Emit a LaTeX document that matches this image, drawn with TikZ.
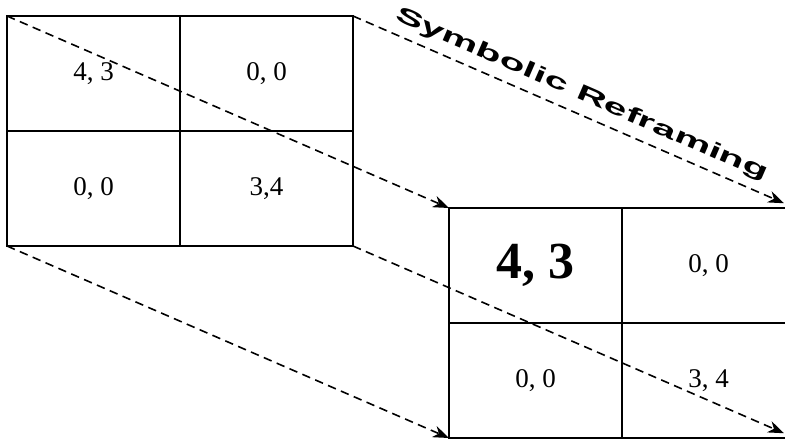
\documentclass[tikz,border=0pt]{standalone}
\usepackage{fontspec}
\setmainfont{Liberation Serif}
\newfontfamily\labelfont{Liberation Sans}
\usetikzlibrary{arrows.meta}
\begin{document}
\begin{tikzpicture}[x=1pt,y=-1pt,
  cell/.style={draw, line width=1.9pt, minimum width=173pt, minimum height=115pt,
    inner sep=0pt, outer sep=0pt, font=\fontsize{27}{30}\selectfont},
  big/.style={font=\fontsize{52}{56}\selectfont\bfseries},
  proj/.style={dash pattern=on 8.5pt off 5.5pt, line width=1.6pt,
    -{Stealth[length=16pt,width=12pt,inset=5pt]}},
  tag/.style={sloped, above=8pt, inner sep=0pt,
    font=\labelfont\bfseries\fontsize{22}{26}\selectfont},
]
\clip (0,0) rectangle (785,440);
% left matrix
\node[cell] (L11) at (93.5,73.5) {4, 3};
\node[cell] (L12) at (266.5,73.5) {0, 0};
\node[cell] (L21) at (93.5,188.5) {0, 0};
\node[cell] (L22) at (266.5,188.5) {3,4};
% right matrix
\node[cell, big] (R11) at (535.5,265.5) {4, 3};
\node[cell] (R12) at (708.5,265.5) {0, 0};
\node[cell] (R21) at (535.5,380.5) {0, 0};
\node[cell] (R22) at (708.5,380.5) {3, 4};
% projection lines
\draw[proj] (L11.north west) -- (R11.north west);
\draw[proj, shorten >=12pt] (L12.north east) -- (R12.north east)
  node[tag, pos=0.5] (lab) {\scalebox{1.9}[1]{Symbolic Reframing}};
\draw[proj] (L21.south west) -- (R21.south west);
\draw[proj, shorten >=12pt] (L22.south east) -- (R22.south east);
\end{tikzpicture}
\end{document}
